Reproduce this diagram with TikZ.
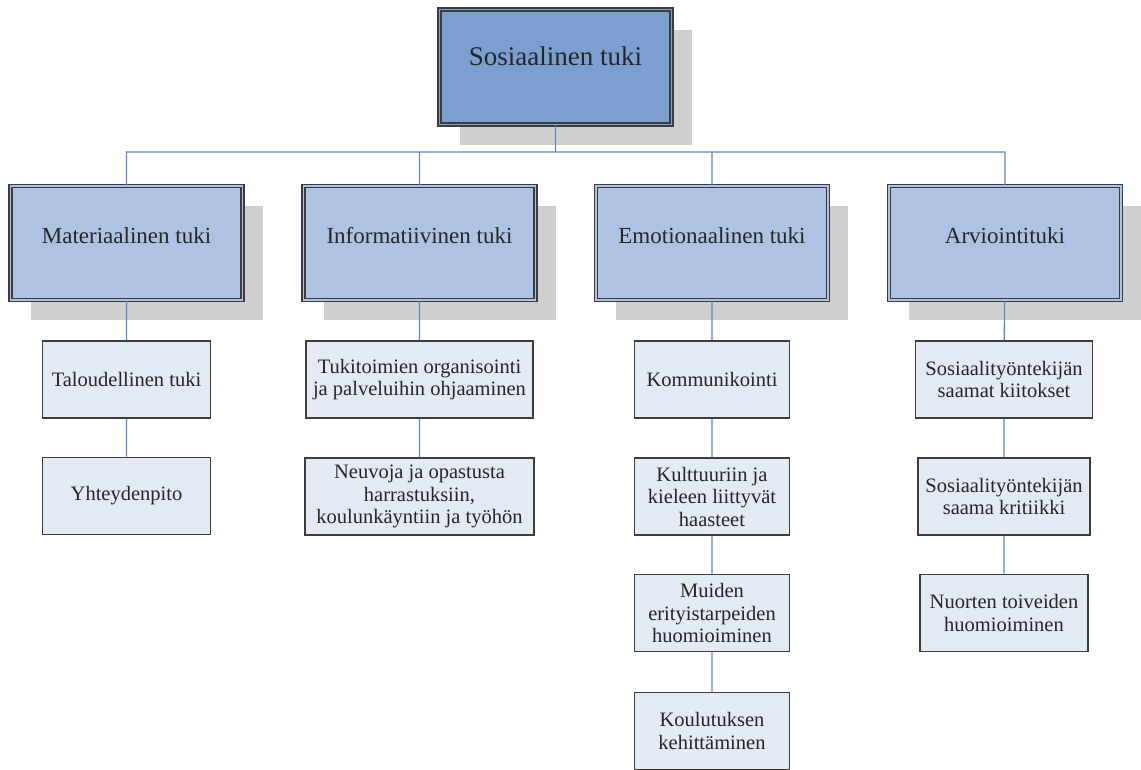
\documentclass[tikz,border=0pt]{standalone}
\usepackage{fontspec}
\setmainfont{Liberation Serif}
\usepackage{xcolor}
\usetikzlibrary{shadows}

\definecolor{topfill}{HTML}{7B9FD1}
\definecolor{midfill}{HTML}{AEC3E3}
\definecolor{lowfill}{HTML}{E3EAF3}
\definecolor{shadowgray}{HTML}{CFCFCF}
\definecolor{linkblue}{HTML}{5A86C8}
\definecolor{boxedge}{HTML}{3C3C3C}

\begin{document}
\begin{tikzpicture}[x=1pt, y=-1pt,
    boxshadow/.style={drop shadow={shadow xshift=20pt, shadow yshift=-20pt, fill=shadowgray, opacity=1}},
    topbox/.style={rectangle, draw=boxedge, line width=1.5pt, double=topfill, double distance=1.5pt,
        fill=topfill, boxshadow, minimum width=232pt, minimum height=115pt, inner sep=0pt, text=black!85,
        font=\fontsize{27}{31}\selectfont, text height=19pt, text depth=23pt},
    midbox/.style={rectangle, draw=boxedge, line width=1.5pt, double=midfill, double distance=1.5pt,
        fill=midfill, boxshadow, minimum width=232pt, minimum height=114pt, inner sep=0pt, text=black!85,
        font=\fontsize{23}{26}\selectfont, text height=16pt, text depth=16pt},
    lowbox/.style={rectangle, draw=boxedge, line width=1.8pt, fill=lowfill,
        minimum height=77pt, inner sep=0pt, align=center, text=black!85,
        font=\fontsize{20.5}{22.5}\selectfont},
    link/.style={draw=linkblue, line width=1.3pt}]

    \useasboundingbox (0, 0) rectangle (1141, 769);

    % top level
    \node[topbox] (sos) at (555.5, 67) {Sosiaalinen tuki};
    \coordinate (bus) at (555.5, 152);

    % second level
    \node[midbox] (mat) at (126.5, 243) {Materiaalinen tuki};
    \node[midbox] (inf) at (419.5, 243) {Informatiivinen tuki};
    \node[midbox] (emo) at (712, 243) {Emotionaalinen tuki};
    \node[midbox] (arv) at (1005, 243) {Arviointituki};

    % third level
    \node[lowbox, minimum width=168pt] (mat1) at (126.5, 379.5) {Taloudellinen tuki};
    \node[lowbox, minimum width=168pt] (mat2) at (126.5, 496) {Yhteydenpito};

    \node[lowbox, minimum width=227pt] (inf1) at (419.5, 379.5) {Tukitoimien organisointi\\ja palveluihin ohjaaminen};
    \node[lowbox, minimum width=229pt] (inf2) at (419.5, 496.5) {Neuvoja ja opastusta\\harrastuksiin,\\koulunkäyntiin ja työhön};

    \node[lowbox, minimum width=155pt] (emo1) at (712, 379.5) {Kommunikointi};
    \node[lowbox, minimum width=155pt] (emo2) at (712, 496.5) {Kulttuuriin ja\\kieleen liittyvät\\haasteet};
    \node[lowbox, minimum width=155pt] (emo3) at (712, 613) {Muiden\\erityistarpeiden\\huomioiminen};
    \node[lowbox, minimum width=155pt] (emo4) at (712, 731) {Koulutuksen\\kehittäminen};

    \node[lowbox, minimum width=177pt] (arv1) at (1004, 379.5) {Sosiaalityöntekijän\\saamat kiitokset};
    \node[lowbox, minimum width=172pt] (arv2) at (1004, 496.5) {Sosiaalityöntekijän\\saama kritiikki};
    \node[lowbox, minimum width=168pt] (arv3) at (1004, 613) {Nuorten toiveiden\\huomioiminen};

    \draw[link]
    (sos) -- (bus)
    (bus) -| (mat)
    (bus) -| (inf)
    (bus) -| (emo)
    (bus) -| (arv)
    (mat) -- (mat1)
    (mat1) -- (mat2)
    (inf) -- (inf1)
    (inf1) -- (inf2)
    (emo) -- (emo1)
    (emo1) -- (emo2)
    (emo2) -- (emo3)
    (emo3) -- (emo4)
    (arv) -- (arv1)
    (arv1) -- (arv2)
    (arv2) -- (arv3);
\end{tikzpicture}
\end{document}
